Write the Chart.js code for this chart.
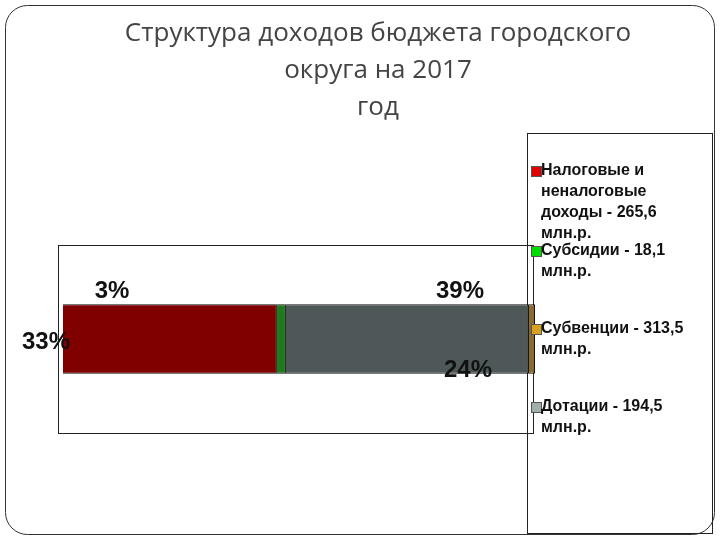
<!DOCTYPE html>
<html><head><meta charset="utf-8">
<script src="https://cdn.jsdelivr.net/npm/chart.js@4"></script>
<style>body{margin:0;background:#fff}#c{display:block}</style>
</head><body>
<canvas id="c" width="720" height="540"></canvas>
<script>
// segment widths (bar is an edge-on pie)
const segments = ["Налоговые и неналоговые доходы", "Субсидии", "Дотации", "Субвенции"];
const segmentValues = [213, 9, 242, 6];
const segmentColors = ["#800000", "#1f7a1f", "#4f5858", "#8a6a30"];
const titleLines = ["Структура доходов бюджета городского", "округа на 2017", "год"];
const pctLabels = ["3%", "39%", "33%", "24%"];
const legendLines = [
  ["Налоговые и", "неналоговые", "доходы - 265,6", "млн.р."],
  ["Субсидии - 18,1", "млн.р."],
  ["Субвенции - 313,5", "млн.р."],
  ["Дотации - 194,5", "млн.р."]
];
const legendColors = ["#e00000", "#00dd00", "#d9a020", "#a0b0a8"];

const decor = {
  id: "decor",
  beforeDraw(chart) {
    const c = chart.ctx;
    c.save();
    c.fillStyle = "#fff"; c.fillRect(0, 0, 720, 540);
    c.strokeStyle = "#333"; c.lineWidth = 1;
    c.beginPath(); c.roundRect(5.5, 5.5, 709, 529, 22); c.stroke();
    c.fillStyle = "#444"; c.font = "26px 'Open Sans'"; c.textAlign = "center"; c.textBaseline = "middle";
    titleLines.forEach((t, i) => c.fillText(t, 378, 34 + i * 37));
    c.strokeStyle = "#222";
    c.strokeRect(58.5, 245.5, 475, 188);
    c.strokeRect(527.5, 133.5, 185, 400);
    c.restore();
  },
  afterDraw(chart) {
    const c = chart.ctx;
    c.save();
    c.fillStyle = "#111"; c.font = "bold 24px 'Liberation Sans'"; c.textAlign = "center"; c.textBaseline = "middle";
    const pos = [[112, 291], [460, 291], [46, 342], [468, 370]];
    pctLabels.forEach((t, i) => c.fillText(t, pos[i][0], pos[i][1]));
    c.font = "bold 16px 'Liberation Sans'"; c.textAlign = "left"; c.textBaseline = "top";
    const tops = [163, 243, 321, 399];
    legendLines.forEach((lines, i) => {
      c.fillStyle = legendColors[i]; c.fillRect(531, tops[i] + 3, 10, 10);
      c.strokeStyle = "#555"; c.strokeRect(531.5, tops[i] + 3.5, 10, 10);
      c.fillStyle = "#111";
      lines.forEach((l, j) => c.fillText(l, 541, tops[i] + j * 21));
    });
    c.restore();
  }
};

new Chart(document.getElementById("c"), {
  type: "bar",
  data: {
    labels: [""],
    datasets: segments.map((s, i) => ({
      label: s, data: [segmentValues[i]], backgroundColor: segmentColors[i],
      borderColor: "#111", borderWidth: 1, barPercentage: 0.37, categoryPercentage: 1
    }))
  },
  options: {
    indexAxis: "y", responsive: false, animation: false,
    layout: { padding: { left: 63, right: 185, top: 245, bottom: 107 } },
    plugins: { legend: { display: false }, tooltip: { enabled: false } },
    scales: {
      x: { stacked: true, min: 0, max: 470, display: false },
      y: { stacked: true, display: false }
    }
  },
  plugins: [decor]
});
</script>
</body></html>
